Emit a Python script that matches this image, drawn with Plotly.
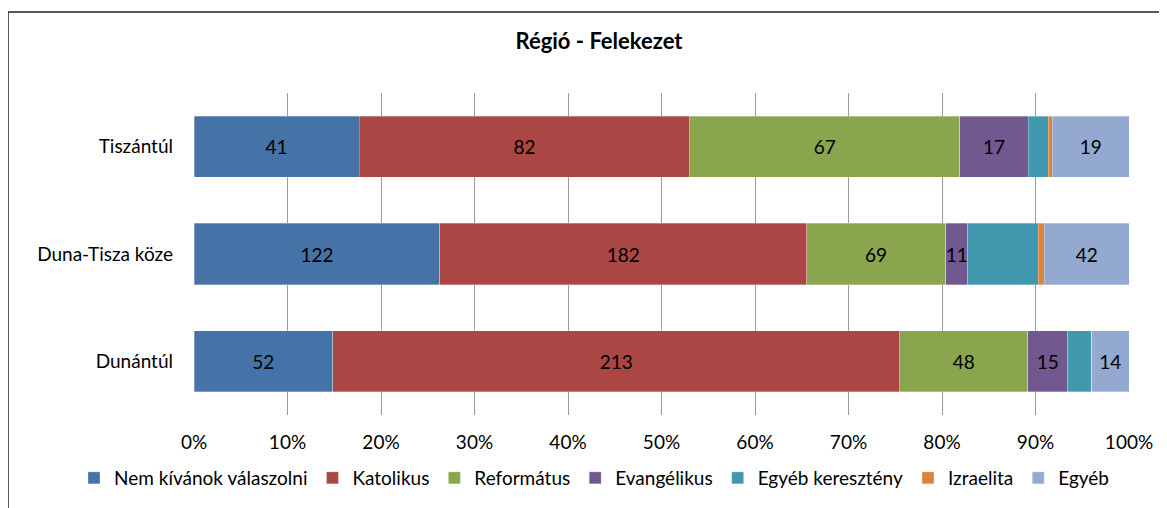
import plotly.graph_objects as go

regions = ["Dunántúl", "Duna-Tisza köze", "Tiszántúl"]
nem_kivanok = [52, 122, 41]
katolikus = [213, 182, 82]
reformatus = [48, 69, 67]
evangelikus = [15, 11, 17]
egyeb_kereszteny = [9, 35, 5]
izraelita = [0, 3, 1]
egyeb = [14, 42, 19]
tick_vals = list(range(0, 101, 10))
tick_text = [f"{v}%" for v in tick_vals]

series = [
    ("Nem kívánok válaszolni", nem_kivanok, "#4572A7", True),
    ("Katolikus", katolikus, "#AA4643", True),
    ("Református", reformatus, "#89A54E", True),
    ("Evangélikus", evangelikus, "#71588F", True),
    ("Egyéb keresztény", egyeb_kereszteny, "#4198AF", False),
    ("Izraelita", izraelita, "#DB843D", False),
    ("Egyéb", egyeb, "#93A9CF", True),
]

FONT = "Lato"
FS = 19
fig = go.Figure()
for name, vals, color, show in series:
    fig.add_trace(go.Bar(
        y=regions, x=vals, name=name, orientation="h",
        marker=dict(color=color, line=dict(color="rgba(255,255,255,0.5)", width=0.6)),
        text=[str(v) for v in vals] if show else None,
        textposition="inside" if show else "none",
        insidetextanchor="middle",
        constraintext="none",
        textfont=dict(color="black", size=FS, family=FONT),
        hoverinfo="x+y+name",
    ))

# page is offset by the 8px body margin
OFF = 8
W, H = 1167 - OFF, 508 - OFF
l, t = 194 - OFF, 93 - OFF
pw, ph = 935, 322
r, b = W - l - pw, H - t - ph

def px(xp):  # page x -> paper
    return (xp - OFF - l) / pw

def py(yp):  # page y -> paper
    return (t + ph - (yp - OFF)) / ph

fig.update_layout(
    width=W, height=H,
    barmode="stack", barnorm="percent", bargap=0.43,
    margin=dict(l=l, r=r, t=t, b=b, autoexpand=False),
    paper_bgcolor="white", plot_bgcolor="white",
    font=dict(family=FONT, size=FS, color="black"),
    title=dict(text="<b>Régió - Felekezet</b>", x=px(599), xref="paper",
               xanchor="center", y=1 - (41 - OFF) / H, yanchor="middle",
               font=dict(size=22, family=FONT, color="black")),
    xaxis=dict(range=[0, 100], tickvals=tick_vals, ticktext=tick_text,
               showgrid=True, gridcolor="#9a9a9a", gridwidth=1.3,
               zeroline=False, showline=False, ticks="", ticklabelstandoff=14,
               tickfont=dict(size=FS, family=FONT)),
    yaxis=dict(showgrid=False, zeroline=False, showline=False, ticks="",
               ticklabelstandoff=20, tickfont=dict(size=FS, family=FONT)),
    legend=dict(orientation="h", x=px(74), xanchor="left",
                y=py(478), yanchor="middle",
                font=dict(size=FS, family=FONT), traceorder="normal",
                itemwidth=30, tracegroupgap=0),
    shapes=[dict(type="rect", xref="paper", yref="paper",
                 x0=px(8), x1=px(1190), y0=py(530), y1=py(12),
                 line=dict(color="#222222", width=1.5), fillcolor="rgba(0,0,0,0)",
                 layer="below")],
)

fig.write_html("out.html")
